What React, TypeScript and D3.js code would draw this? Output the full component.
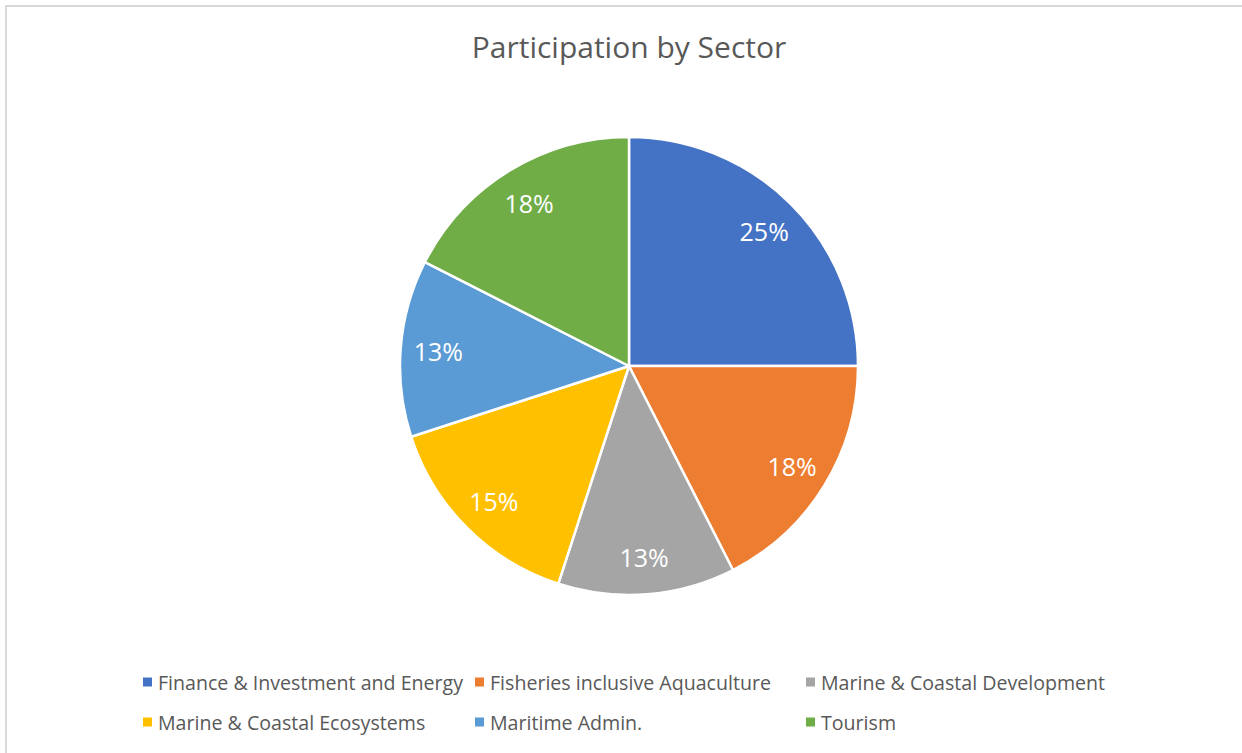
import React from "react";
import * as d3 from "d3";

const categories = [
  "Finance & Investment and Energy",
  "Fisheries inclusive Aquaculture",
  "Marine & Coastal Development",
  "Marine & Coastal Ecosystems",
  "Maritime Admin.",
  "Tourism",
];
const values = [10, 7, 5, 6, 5, 7];
const colors = ["#4472C4", "#ED7D31", "#A5A5A5", "#FFC000", "#5B9BD5", "#70AD47"];
const title = "Participation by Sector";

const W = 1242;
const H = 753;
const FONT = "'Open Sans', 'Noto Sans', sans-serif";

export default function App() {
  const cx = 629;
  const cy = 366;
  const R = 229;
  const total = d3.sum(values);
  const pie = d3.pie<number>().sort(null).value((d) => d).startAngle(0).endAngle(2 * Math.PI);
  const arcs = pie(values);
  const arc = d3.arc<d3.PieArcDatum<number>>().innerRadius(0).outerRadius(R);
  const labelArc = d3.arc<d3.PieArcDatum<number>>().innerRadius(R * 0.835).outerRadius(R * 0.835);
  const fmt = d3.format(".0%");

  const legendCols = [143, 475, 806];
  const legendRows = [682, 722];

  return (
    <svg width={W} height={H} style={{ position: "absolute", left: 0, top: 0 }}>
      <rect x={0} y={0} width={W} height={H} fill="#fff" />
      <rect x={6} y={6} width={W + 10} height={H + 10} fill="#fff" stroke="#d9d9d9" strokeWidth={2} />
      <text x={629} y={58} textAnchor="middle" fontFamily={FONT} fontSize={30} fill="#595959">
        {title}
      </text>
      <g transform={`translate(${cx},${cy})`}>
        {arcs.map((a, i) => (
          <path key={i} d={arc(a) || ""} fill={colors[i]} stroke="#fff" strokeWidth={2.5} strokeLinejoin="round" />
        ))}
        {arcs.map((a, i) => {
          const [lx, ly] = labelArc.centroid(a);
          return (
            <text key={i} x={lx} y={ly} textAnchor="middle" dominantBaseline="central" fontFamily={FONT} fontSize={25} fill="#fff">
              {fmt(values[i] / total)}
            </text>
          );
        })}
      </g>
      {categories.map((c, i) => {
        const col = i % 3;
        const row = Math.floor(i / 3);
        const x = legendCols[col];
        const y = legendRows[row];
        return (
          <g key={c}>
            <rect x={x} y={y - 4.5} width={9} height={9} fill={colors[i]} />
            <text x={x + 15} y={y} dominantBaseline="central" fontFamily={FONT} fontSize={19.6} fill="#595959">
              {c}
            </text>
          </g>
        );
      })}
    </svg>
  );
}
